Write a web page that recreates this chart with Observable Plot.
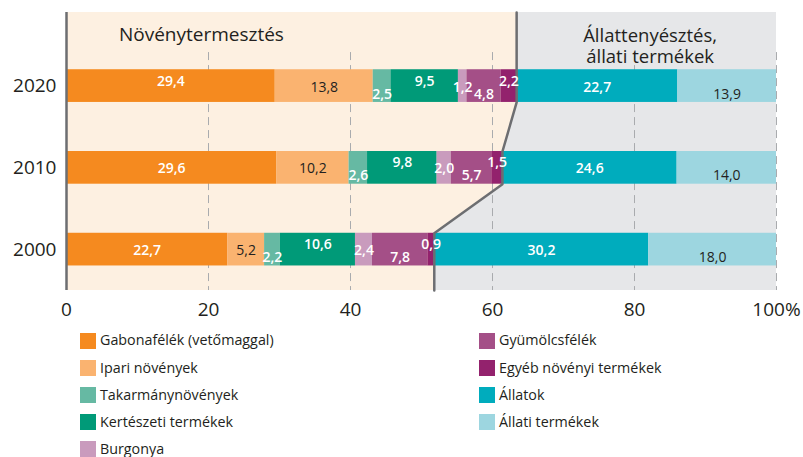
<!DOCTYPE html>
<html>
<head>
<meta charset="utf-8">
<script src="https://cdn.jsdelivr.net/npm/d3@7"></script>
<script src="https://cdn.jsdelivr.net/npm/@observablehq/plot@0.6"></script>
<style>
  body { margin: 0; background: #fff; font-family: "Open Sans", sans-serif; color: #231f20; overflow: hidden; }
  #chart svg { display: block; }
  .legend { display: grid; grid-auto-flow: column; grid-template-rows: repeat(5, 27.2px);
            grid-template-columns: 399px 300px; padding-left: 80px; margin-top: 2px; }
  .item { display: flex; align-items: center; font-size: 14.3px; color: #231f20; line-height: 1; }
  .sw { width: 16px; height: 16px; margin-right: 4px; flex: none; }
</style>
</head>
<body>
<div id="chart"></div>
<div class="legend" id="legend"></div>
<script>
const years = ["2020", "2010", "2000"];
const categories = [
  "Gabonafélék (vetőmaggal)", "Ipari növények", "Takarmánynövények", "Kertészeti termékek",
  "Burgonya", "Gyümölcsfélék", "Egyéb növényi termékek", "Állatok", "Állati termékek"
];
const values2020 = [29.4, 13.8, 2.5, 9.5, 1.2, 4.8, 2.2, 22.7, 13.9];
const values2010 = [29.6, 10.2, 2.6, 9.8, 2.0, 5.7, 1.5, 24.6, 14.0];
const values2000 = [22.7, 5.2, 2.2, 10.6, 2.4, 7.8, 0.9, 30.2, 18.0];
const plantCount = 7;
const xTicks = [0, 20, 40, 60, 80, 100];
const colors = ["#f58a1f", "#fab370", "#66b9a3", "#009a78", "#c99bbd", "#a44f87", "#93226d", "#00acbd", "#9dd6e0"];
const darkLabelCats = ["Ipari növények", "Állati termékek"];
// label vertical placement: u = upper, m = middle, d = lower
const place2020 = ["u", "m", "d", "u", "m", "d", "u", "m", "d"];
const place2010 = ["m", "m", "d", "u", "m", "d", "u", "m", "d"];
const place2000 = ["m", "m", "d", "u", "m", "d", "u", "m", "d"];

const allValues = [values2020, values2010, values2000];
const allPlace = [place2020, place2010, place2000];
const half = 0.2; // bar half-thickness in row units
const yTop = -0.9, yBottom = 2.5;

const fmt = v => v.toFixed(1).replace(".", ",");
const rows = [];
allValues.forEach((vals, r) => {
  let acc = 0;
  vals.forEach((v, i) => {
    rows.push({row: r, cat: categories[i], value: v, x1: acc, x2: acc + v, mid: acc + v / 2,
               place: allPlace[r][i], dark: darkLabelCats.includes(categories[i]), label: fmt(v)});
    acc += v;
  });
});
const plantSums = allValues.map(v => d3.sum(v.slice(0, plantCount)));
const boundary = [
  {y: yTop, b: plantSums[0]},
  {y: 0 + half, b: plantSums[0]},
  {y: 1 - half, b: plantSums[1]},
  {y: 1 + half, b: plantSums[1]},
  {y: 2 - half, b: plantSums[2]},
  {y: yBottom, b: plantSums[2]}
];

const textMark = (place, dy) => [
  Plot.text(rows.filter(d => d.place === place && !d.dark), {x: "mid", y: "row", text: "label", dy,
    fill: "white", fontSize: 14, fontWeight: 600}),
  Plot.text(rows.filter(d => d.place === place && d.dark), {x: "mid", y: "row", text: "label", dy,
    fill: "#231f20", fontSize: 14})
];

const chart = Plot.plot({
  width: 803, height: 325,
  marginLeft: 66, marginRight: 27, marginTop: 12, marginBottom: 35,
  style: {fontFamily: "Open Sans, sans-serif", color: "#231f20"},
  x: {domain: [0, 100], axis: null},
  y: {domain: [yTop, yBottom], range: [12, 290], axis: null},
  marks: [
    Plot.areaX(boundary, {y: "y", x1: 0, x2: "b", fill: "#fdf0e1"}),
    Plot.areaX(boundary, {y: "y", x1: "b", x2: 100, fill: "#e6e7e9"}),
    Plot.ruleX(xTicks.slice(1), {y1: -0.41, y2: yBottom, stroke: "#a9abae", strokeDasharray: "8,5", strokeWidth: 1}),
    Plot.rect(rows, {x1: "x1", x2: "x2", y1: d => d.row - half, y2: d => d.row + half, fill: "cat"}),
    Plot.ruleX([0], {y1: yTop, y2: yBottom, stroke: "#6d6e71", strokeWidth: 2.5}),
    Plot.line(boundary, {x: "b", y: "y", stroke: "#6d6e71", strokeWidth: 2.5}),
    ...textMark("u", -5),
    ...textMark("m", 1),
    ...textMark("d", 8),
    Plot.text(["Növénytermesztés"], {x: 19, y: -0.555, lineAnchor: "bottom", fontSize: 19, fill: "#231f20"}),
    Plot.text(["Állattenyésztés,\nállati termékek"], {x: (plantSums[0] + 100) / 2 + 0.5, y: -0.287,
      lineAnchor: "bottom", fontSize: 18.5, lineHeight: 1.14, fill: "#231f20"}),
    Plot.axisX({ticks: xTicks, tickSize: 0, tickPadding: 12, fontSize: 19,
      tickFormat: d => d === 100 ? "100%" : String(d)}),
    Plot.axisY({ticks: [0, 1, 2], tickSize: 0, tickPadding: 10, fontSize: 19,
      tickFormat: i => years[i]})
  ],
  color: {domain: categories, range: colors}
});
document.getElementById("chart").appendChild(chart);

const legend = document.getElementById("legend");
categories.forEach((c, i) => {
  const item = document.createElement("div");
  item.className = "item";
  item.innerHTML = `<span class="sw" style="background:${colors[i]}"></span><span>${c}</span>`;
  legend.appendChild(item);
});
</script>
</body>
</html>
